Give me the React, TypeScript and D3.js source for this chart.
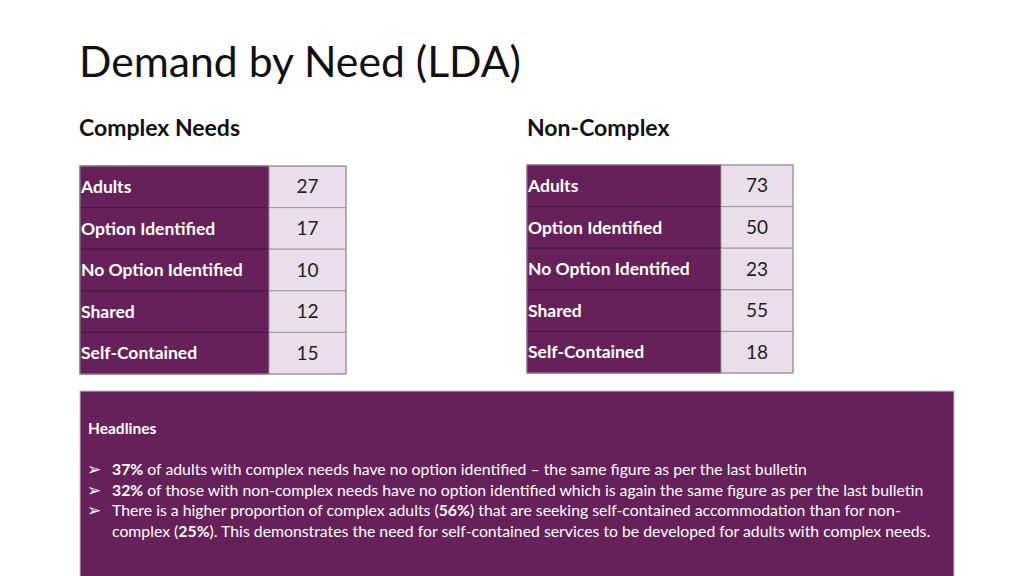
import React from "react";
import * as d3 from "d3";

const rowLabels = ["Adults", "Option Identified", "No Option Identified", "Shared", "Self-Contained"];
const complexValues = [27, 17, 10, 12, 15];
const nonComplexValues = [73, 50, 23, 55, 18];
const titleText = "Demand by Need (LDA)";
const complexTitle = "Complex Needs";
const nonComplexTitle = "Non-Complex";
const headlineTitle = "Headlines";
type Seg = { t: string; b?: boolean };
const headlineLines: { bullet: boolean; segs: Seg[] }[] = [
  { bullet: true, segs: [{ t: "37%", b: true }, { t: " of adults with complex needs have no option identified – the same figure as per the last bulletin" }] },
  { bullet: true, segs: [{ t: "32%", b: true }, { t: " of those with non-complex needs have no option identified which is again the same figure as per the last bulletin" }] },
  { bullet: true, segs: [{ t: "There is a higher proportion of complex adults (" }, { t: "56%", b: true }, { t: ") that are seeking self-contained accommodation than for non-" }] },
  { bullet: false, segs: [{ t: "complex (" }, { t: "25%", b: true }, { t: "). This demonstrates the need for self-contained services to be developed for adults with complex needs." }] },
];

const FONT = "Lato, 'Open Sans', sans-serif";
const PURPLE = "#66215A";
const LIGHT = "#E9DEE9";

function Table({ x0, x1, x2, y0, y1, values }: { x0: number; x1: number; x2: number; y0: number; y1: number; values: number[] }) {
  const y = d3.scaleBand<string>().domain(rowLabels).range([y0, y1]).padding(0);
  const bw = y.bandwidth();
  return (
    <g>
      {rowLabels.map((lab, i) => {
        const ty = y(lab)!;
        return (
          <g key={lab}>
            <rect x={x0} y={ty} width={x1 - x0} height={bw} fill={PURPLE} stroke="#4a1540" strokeWidth={1} />
            <rect x={x1} y={ty} width={x2 - x1} height={bw} fill={LIGHT} stroke="#9a9a9a" strokeWidth={1} />
            <text x={x0 + 1} y={ty + bw / 2} dy="0.35em" fill="#fff" fontFamily={FONT} fontWeight={700} fontSize={17.5}>
              {lab}
            </text>
            <text x={(x1 + x2) / 2} y={ty + bw / 2} dy="0.35em" fill="#222" fontFamily={FONT} fontSize={19} textAnchor="middle">
              {values[i]}
            </text>
          </g>
        );
      })}
      <rect x={x0} y={y0} width={x2 - x0} height={y1 - y0} fill="none" stroke="#9a9a9a" strokeWidth={1} />
    </g>
  );
}

export default function App() {
  const lineY = d3.scaleLinear().domain([0, 3]).range([475, 537]);
  return (
    <svg width={1024} height={576} style={{ position: "fixed", left: 0, top: 0, background: "#fff" }}>
      <rect x={0} y={0} width={1024} height={576} fill="#fff" />
      <text x={79} y={77} fontFamily={FONT} fontSize={42.7} fill="#111">{titleText}</text>
      <text x={79} y={136} fontFamily={FONT} fontWeight={700} fontSize={23} fill="#111">{complexTitle}</text>
      <text x={527} y={136} fontFamily={FONT} fontWeight={700} fontSize={23} fill="#111">{nonComplexTitle}</text>
      <Table x0={80} x1={269} x2={346} y0={166} y1={374} values={complexValues} />
      <Table x0={527} x1={721} x2={793} y0={165} y1={373} values={nonComplexValues} />
      <rect x={80} y={391} width={874} height={190} fill={PURPLE} stroke="#c8c0c8" strokeWidth={1} />
      <text x={88} y={434} fontFamily={FONT} fontWeight={700} fontSize={15.5} fill="#fff">{headlineTitle}</text>
      {headlineLines.map((ln, i) => (
        <g key={i}>
          {ln.bullet && (
            <text x={87} y={lineY(i)} fontFamily="'DejaVu Sans', sans-serif" fontSize={17} fill="#fff">➢</text>
          )}
          <text x={112} y={lineY(i)} fontFamily={FONT} fontSize={15.8} fill="#fff">
            {ln.segs.map((s, j) => (
              <tspan key={j} fontWeight={s.b ? 700 : 400}>{s.t}</tspan>
            ))}
          </text>
        </g>
      ))}
    </svg>
  );
}
